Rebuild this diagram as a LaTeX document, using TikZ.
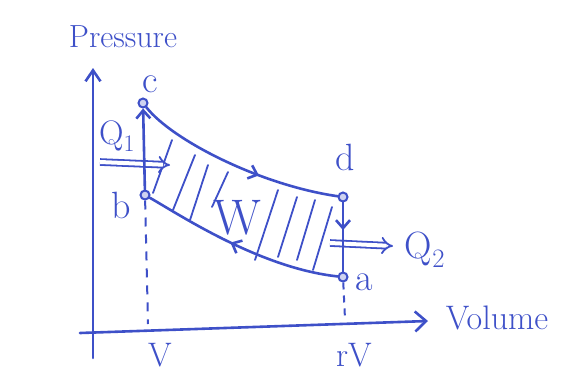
\documentclass[tikz,border=0pt]{standalone}
\usepackage{fontspec}
\usetikzlibrary{arrows.meta,decorations.markings}
\definecolor{InkBlue}{RGB}{62,80,200}

\begin{document}
\begin{tikzpicture}[x=1pt,y=-1pt,
  ink/.style={InkBlue,line width=2.6pt,line cap=round,line join=round},
  vertex/.style={circle,draw=InkBlue,fill=InkBlue!25,line width=2pt,inner sep=0pt,minimum size=9pt},
  tag/.style={text=InkBlue,inner sep=0pt,font=\fontsize{34}{34}\selectfont},
  heat/.style={InkBlue,line width=1.8pt,double=white,double distance=4pt,-{Implies[length=8pt]}},
  midarrow/.style={postaction={decorate},decoration={markings,
    mark=at position #1 with {\arrow{Straight Barb[length=8pt,width=14pt]}}}}
]
  \useasboundingbox (0,0) rectangle (563,376);

  % axes
  \coordinate (ybot) at (93,358);
  \coordinate (ytop) at (93,68);
  \coordinate (xleft) at (80,333);
  \coordinate (xright) at (428,321);
  \draw[ink,-{Straight Barb[length=11pt,width=15pt]}] (ybot) -- (ytop);
  \draw[ink,-{Straight Barb[length=11pt,width=20pt]}] (xleft) -- (xright);
  \node[tag,font=\fontsize{32}{32}\selectfont] (pname) at (123,37) {Pressure};
  \node[tag] (vname) at (497,318) {Volume};

  % states of the cycle
  \node[vertex] (c) at (143,103) {};
  \node[vertex] (b) at (145,195) {};
  \node[vertex] (d) at (343,197) {};
  \node[vertex] (a) at (343,277) {};
  \node[tag,font=\fontsize{38}{38}\selectfont] (lc) at (150,84) {c};
  \node[tag,font=\fontsize{38}{38}\selectfont] (ld) at (345,157) {d};
  \node[tag,font=\fontsize{38}{38}\selectfont] (lb) at (121,205) {b};
  \node[tag,font=\fontsize{38}{38}\selectfont] (la) at (364,282) {a};

  % work area
  \foreach \xa/\ya/\xb/\yb in {153/193/172/140, 173/210/195/155, 190/220/208/165,
      212/207/228/172, 255/260/278/190, 278/257/297/197, 297/260/315/200, 313/270/332/207}
    \draw[InkBlue,line width=1.8pt,line cap=round] (\xa,\ya) -- (\xb,\yb);
  \node[tag,font=\fontsize{50}{50}\selectfont] (work) at (237,218) {W};

  % heat in and out
  \coordinate (q1from) at (100,162);
  \coordinate (q1to) at (170,165);
  \coordinate (q2from) at (330,243);
  \coordinate (q2to) at (393,246);
  \draw[heat] (q1from) -- (q1to);
  \draw[heat] (q2from) -- (q2to);
  \node[tag] (q1) at (117,136) {Q\textsubscript{1}};
  \node[tag,font=\fontsize{38}{38}\selectfont] (q2) at (425,250) {Q\textsubscript{2}};

  % cycle
  \draw[ink,-{Straight Barb[length=8pt,width=14pt]}] (b) -- (c);
  \draw[ink,midarrow=0.62] (c) .. controls (172,140) and (260,185) .. (d);
  \draw[ink,midarrow=0.4] (d) -- (a);
  \draw[ink,midarrow=0.55] (a) .. controls (260,268) and (180,215) .. (b);

  % volumes
  \coordinate (vb) at (148,324);
  \coordinate (va) at (345,319);
  \draw[InkBlue,line width=2pt,dash pattern=on 9pt off 8pt] (b) -- (vb);
  \draw[InkBlue,line width=2pt,dash pattern=on 7pt off 6pt] (a) -- (va);
  \node[tag] (lv) at (160,355) {V};
  \node[tag] (lrv) at (354,355) {rV};
\end{tikzpicture}
\end{document}
